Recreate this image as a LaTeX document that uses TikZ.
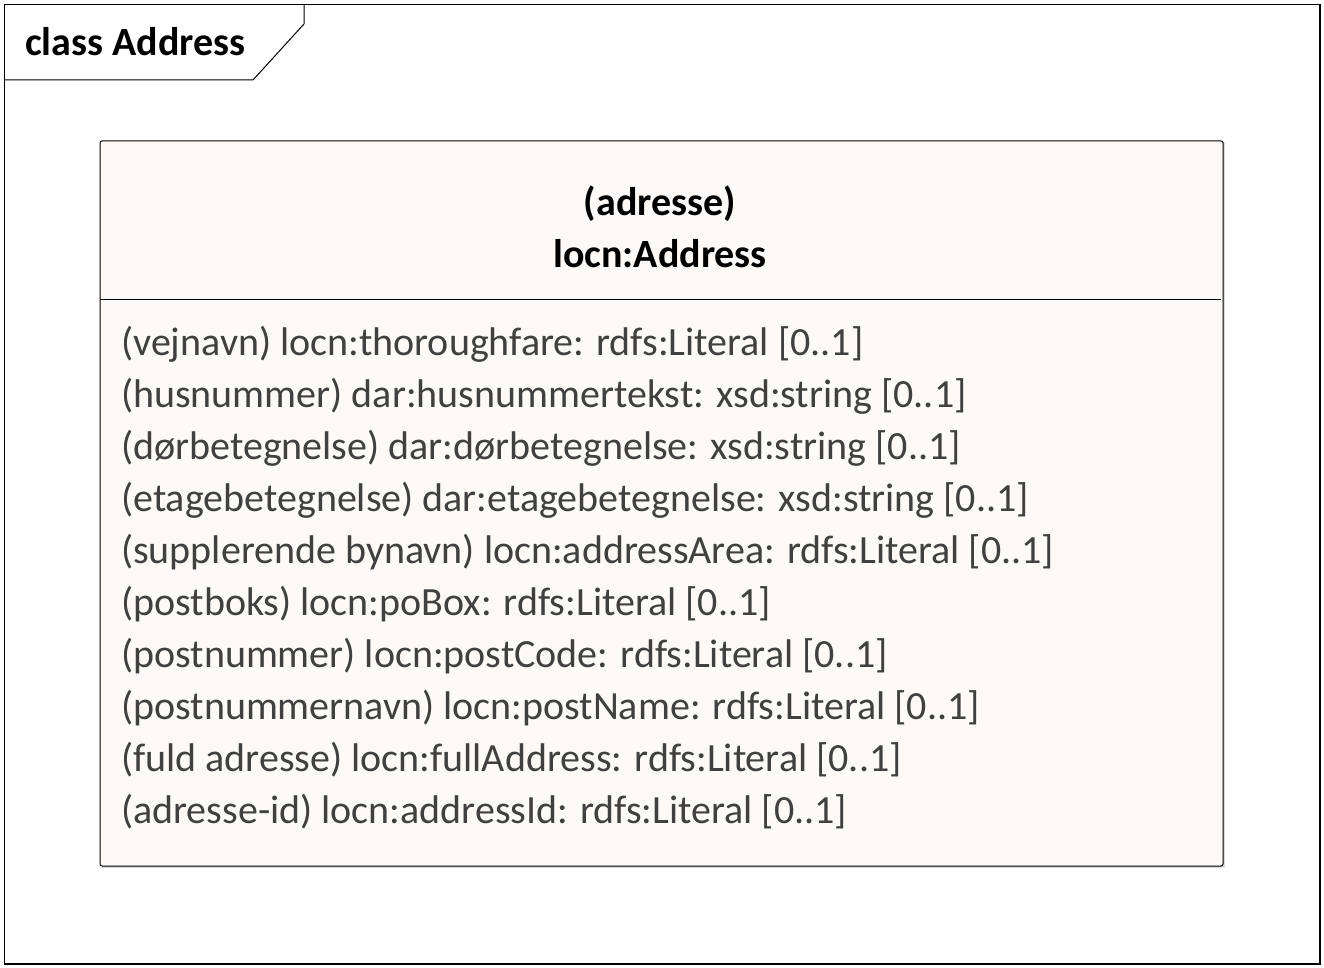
\documentclass[tikz,border=0pt]{standalone}
\usepackage{fontspec}
\setmainfont{Carlito}
\usetikzlibrary{positioning}
\definecolor{classfill}{HTML}{FDF9F6}
\definecolor{attrgray}{HTML}{404040}
\tikzset{
  frametitle/.style = {anchor=base west, inner sep=0pt, font=\fontsize{40}{48}\selectfont\bfseries},
  classname/.style = {anchor=base, inner sep=0pt, font=\fontsize{40}{48}\selectfont\bfseries},
  attrline/.style = {anchor=base west, inner sep=0pt, text=attrgray,
    font=\fontsize{40}{48}\selectfont}
}

\begin{document}
\begin{tikzpicture}[x=1pt,y=-1pt]
    \useasboundingbox (0,0) rectangle (1324,968);
    % diagram frame
    \draw[line width=1.5pt] (4.5,4.5) rectangle (1320,964);
    \draw[line width=1pt] (4.5,80) -- (253,80) -- (304,24) -- (304,4.5);
    \node [frametitle] (title) at (25,56) {class Address};
    % class box
    \fill[black!15] (101.5,142.5) rectangle (1224.5,867.5);
    \draw[fill=classfill, line width=1pt, rounded corners=2pt] (100,141) rectangle (1223,866);
    \draw[line width=1pt] (100,299) -- (1221,299);
    \node [classname] (stereo) at (660,216) {(adresse)};
    \node [classname] (cname) at (660,268) {locn:Address};
    \foreach \txt [count=\i from 0] in {
        {(vejnavn) locn:thoroughfare: rdfs:Literal [0..1]},
        {(husnummer) dar:husnummertekst: xsd:string [0..1]},
        {(dørbetegnelse) dar:dørbetegnelse: xsd:string [0..1]},
        {(etagebetegnelse) dar:etagebetegnelse: xsd:string [0..1]},
        {(supplerende bynavn) locn:addressArea: rdfs:Literal [0..1]},
        {(postboks) locn:poBox: rdfs:Literal [0..1]},
        {(postnummer) locn:postCode: rdfs:Literal [0..1]},
        {(postnummernavn) locn:postName: rdfs:Literal [0..1]},
        {(fuld adresse) locn:fullAddress: rdfs:Literal [0..1]},
        {(adresse-id) locn:addressId: rdfs:Literal [0..1]}}
      \node [attrline] (attr\i) at (121,355+52*\i) {\txt};
\end{tikzpicture}
\end{document}
